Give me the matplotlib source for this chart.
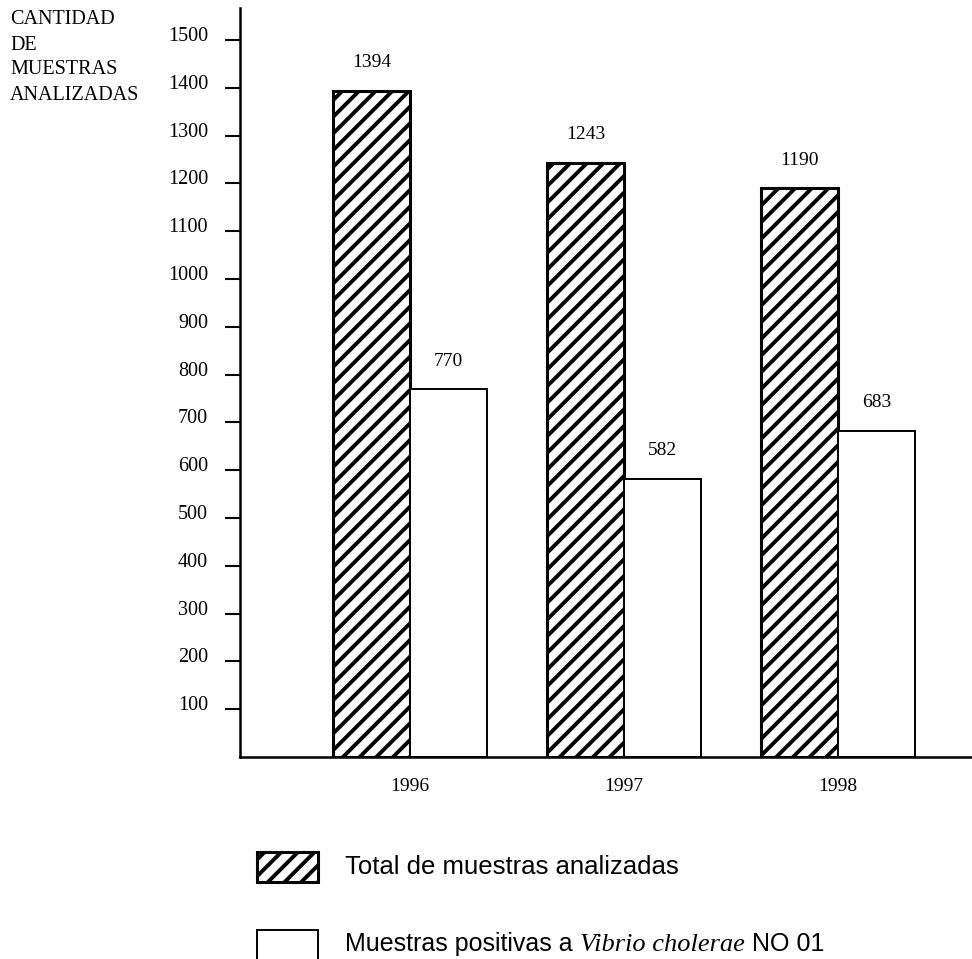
import matplotlib
matplotlib.use("Agg")
import numpy as np
import matplotlib.pyplot as plt
from matplotlib.patches import Rectangle
from matplotlib import transforms

years = ["1996", "1997", "1998"]
total = [1394, 1243, 1190]
positive = [770, 582, 683]
yticks = [100, 200, 300, 400, 500, 600, 700, 800, 900, 1000, 1100, 1200, 1300, 1400, 1500]
ylabel_lines = ["CANTIDAD", "DE", "MUESTRAS", "ANALIZADAS"]
legend_total = "Total de muestras analizadas"
legend_pos = ["Muestras positivas a ", "Vibrio cholerae", " NO 01"]

serif = "Liberation Serif"
sans = "Liberation Sans"

plt.rcParams["hatch.linewidth"] = 2.8
plt.rcParams["hatch.color"] = "black"

fig = plt.figure(figsize=(9.72, 9.59), dpi=100)
ax = fig.add_axes([240 / 972, 1 - 757 / 959, 1 - 240 / 972, (757 - 8) / 959])

x = np.arange(len(years))
w = 0.36
ax.bar(x - w / 2, total, w, color="white", edgecolor="black", hatch="//", linewidth=2.2)
ax.bar(x + w / 2, positive, w, color="white", edgecolor="black", linewidth=1.4)

for xi, v in zip(x - w / 2, total):
    ax.annotate(str(v), (xi, v), xytext=(0, 14), textcoords="offset points",
                ha="center", va="bottom", fontsize=14, family=serif)
for xi, v in zip(x + w / 2, positive):
    ax.annotate(str(v), (xi, v), xytext=(0, 14), textcoords="offset points",
                ha="center", va="bottom", fontsize=14, family=serif)

ax.set_xlim(-0.794, 2.626)
ax.set_ylim(0, 1567)
ax.set_yticks(yticks)
ax.set_yticklabels([str(t) for t in yticks], family=serif, fontsize=14.5)
ax.set_xticks(x)
ax.set_xticklabels(years, family=serif, fontsize=14)
ax.tick_params(axis="x", length=0, pad=15)
ax.tick_params(axis="y", length=11, width=1.5, pad=12)

# nudge the y tick labels a little above their ticks
shift = transforms.ScaledTranslation(0, 6 / 100, fig.dpi_scale_trans)
for lab in ax.get_yticklabels():
    lab.set_transform(lab.get_transform() + shift)

for s in ["top", "right"]:
    ax.spines[s].set_visible(False)
ax.spines["left"].set_linewidth(1.8)
ax.spines["bottom"].set_linewidth(1.8)

for i, line in enumerate(ylabel_lines):
    fig.text(10 / 972, 1 - (20 + 25 * i) / 959, line, family=serif, fontsize=14.5,
             ha="left", va="center")

# legend drawn by hand below the axes
fig.patches.append(Rectangle((257 / 972, 1 - 882 / 959), 61 / 972, 30 / 959,
                             transform=fig.transFigure, facecolor="white",
                             edgecolor="black", hatch="//", linewidth=2.2))
fig.patches.append(Rectangle((257 / 972, 1 - 962 / 959), 61 / 972, 32 / 959,
                             transform=fig.transFigure, facecolor="white",
                             edgecolor="black", linewidth=1.4))
fig.text(345 / 972, 1 - 867 / 959, legend_total, family=sans, fontsize=18.5,
         ha="left", va="center")

fig.canvas.draw()
renderer = fig.canvas.get_renderer()
xpos = 345
fams = [sans, serif, sans]
styles = ["normal", "italic", "normal"]
sizes = [18, 19, 18]
for part, fam, st, sz in zip(legend_pos, fams, styles, sizes):
    t = fig.text(xpos / 972, 1 - 951 / 959, part, family=fam, style=st,
                 fontsize=sz, ha="left", va="baseline")
    bb = t.get_window_extent(renderer)
    xpos += bb.width

fig.savefig("out.png", dpi=100)
